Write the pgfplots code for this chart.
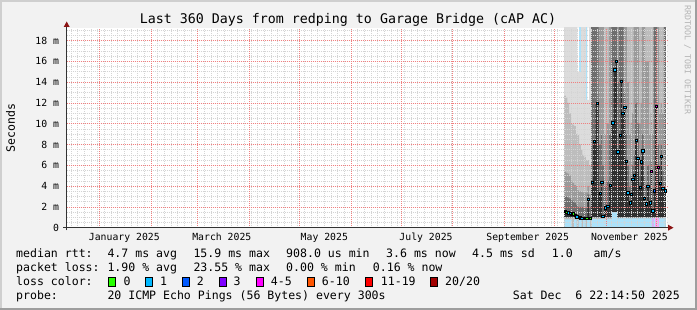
\documentclass[border=0pt]{standalone}
\usepackage{fontspec}
\setmainfont{DejaVu Sans Mono}
\usepackage{xcolor}
\usepackage{pgfplots}
\usepackage{pgfplotstable}
\pgfplotsset{compat=1.18}
\definecolor{bgc}{HTML}{F2F2F2}
\definecolor{shA}{HTML}{CFCFCF}
\definecolor{shB}{HTML}{9E9E9E}
\definecolor{mgrid}{HTML}{F08080}
\definecolor{ngrid}{HTML}{D4D4D4}
\definecolor{axc}{HTML}{333333}
\definecolor{arc}{HTML}{8C1414}
\definecolor{cA}{HTML}{DCDCDC}
\definecolor{cB}{HTML}{BDBDBD}
\definecolor{cC}{HTML}{9A9A9A}
\definecolor{cD}{HTML}{6E6E6E}
\definecolor{cE}{HTML}{303030}
\definecolor{lblue}{HTML}{ACE2FA}
\definecolor{lav}{HTML}{D2B4F5}
\definecolor{lpink}{HTML}{F5A5F5}
\definecolor{l0}{HTML}{26FF00}
\definecolor{l1}{HTML}{00B8FF}
\definecolor{l2}{HTML}{0059FF}
\definecolor{l3}{HTML}{7E00FF}
\definecolor{l4}{HTML}{FF00FF}
\definecolor{l6}{HTML}{FF5500}
\definecolor{l11}{HTML}{FF0000}
\definecolor{l20}{HTML}{A10000}
\definecolor{sidec}{HTML}{B4B4B4}
\newcommand{\axf}{\fontsize{9.8pt}{11pt}\selectfont}
\newcommand{\legf}{\fontsize{11.55pt}{13pt}\selectfont}
\newcommand{\titf}{\fontsize{13.3pt}{15pt}\selectfont}
\newcommand{\sidef}{\fontsize{8.3pt}{10pt}\selectfont}

% smoke: median and envelopes per column (ms), x in days from 1 Jan 2025
\pgfplotstableread{
d md lo hD hC hB mx
278.9 1.6 1.0 3.0 5.4 12.7 25
279.4 1.6 1.0 3.0 5.4 12.7 25
280.4 1.5 1.0 3.0 5.3 12.5 25
281.3 1.45 1.0 2.9 5.2 12.0 25
282.4 1.38 1.0 2.8 5.0 11.0 25
283.4 1.32 1.0 2.6 4.5 10.0 25
284.3 1.35 1.0 2.6 4.3 9.9 25
285.4 1.2 1.0 2.4 4.1 9.8 25
286.4 1.06 0.9 2.2 4.0 9.0 25
287.3 1.0 0.9 2.0 3.6 8.9 15
288.4 0.96 0.9 2.0 3.5 8.0 25
289.4 0.95 0.9 2.0 3.5 7.5 25
290.3 0.9 0.9 2.0 3.4 7.0 25
291.4 0.9 0.9 1.9 3.4 6.8 25
292.4 0.95 0.9 1.9 3.4 6.5 25
293.3 2.76 0.9 3.2 4.0 6.5 12.3
294.4 0.95 0.9 2.0 3.2 6.0 25
295.7 4.4 1.0 25 25 25 25
296.9 8.3 1.0 25 25 25 25
298.7 12.0 1.0 25 25 25 25
300.4 3.3 1.0 8 25 25 25
301.4 4.37 1.0 9 25 25 25
302.0 1.13 1.0 6 25 25 25
303.4 1.92 1.0 4 9 25 25
305.0 2.1 1.0 4.5 10 25 25
306.4 4.1 1.0 9 25 25 25
308.0 10.1 1.0 25 25 25 25
309.2 15.2 1.0 25 25 25 25
310.2 16.0 1.0 25 25 25 25
311.0 7.3 1.0 14 25 25 25
312.4 8.9 1.0 25 25 25 25
313.0 14.1 1.0 25 25 25 25
314.0 11.0 1.0 25 25 25 25
315.2 11.6 1.0 13 25 25 25
316.0 6.4 1.0 9 25 25 25
317.0 3.37 1.0 6 14 25 25
318.4 2.4 1.0 4 9 25 25
319.0 3.2 1.0 5 10 25 25
320.0 4.7 1.0 6 11 25 25
321.0 5.07 1.0 7 25 25 25
322.0 8.4 1.0 12 25 25 25
323.0 6.7 1.0 10 25 25 25
324.4 3.9 1.0 5 10 25 25
325.0 6.35 1.0 7.5 12 25 25
326.0 7.4 1.0 9 25 25 25
327.0 2.8 1.0 5 25 25 25
328.0 2.3 1.0 4 16 25 25
329.0 4.0 1.0 6 16 25 25
330.4 2.4 1.0 4 9 25 25
331.0 5.45 1.0 6.5 11 25 25
332.0 1.63 1.0 3.5 9 25 25
333.0 3.56 1.0 25 25 25 25
334.0 11.7 1.0 25 25 25 25
335.4 5.8 1.0 8 25 25 25
336.4 4.27 1.0 6 11 25 25
337.0 6.9 1.0 8 12 25 25
338.0 3.8 1.0 5.5 11 25 25
339.4 3.56 1.0 25 25 25 25
339.9 3.56 1.0 25 25 25 25
}\smoke

\pagecolor{bgc}
\begin{document}
\begin{tikzpicture}
\useasboundingbox (0pt,0pt) rectangle (697pt,310pt);
\begin{axis}[
  at={(66.7pt,82.3pt)}, anchor=south west, scale only axis,
  width=600.3pt, height=199.7pt,
  xmin=-19.56, xmax=340.56, ymin=0, ymax=19.2,
  axis background/.style={fill=white},
  axis line style={draw=none},
  axis on top,
  tick style={draw=none},
  xtick={15,73.5,135,196,257,318},
  xticklabels={January 2025,March 2025,May 2025,July 2025,September 2025,November 2025},
  xticklabel style={font=\axf, anchor=base, inner sep=0pt, yshift=-13pt},
  ytick={0,2,4,6,8,10,12,14,16,18},
  yticklabels={0\hspace{1.204em},2 m,4 m,6 m,8 m,10 m,12 m,14 m,16 m,18 m},
  yticklabel style={font=\axf, anchor=east, inner sep=0pt, xshift=-7.4pt},
  minor ytick={0.5,1,...,19},
  minor xtick={-17,-13,...,339},
  extra x ticks={0,31,59,90,120,151,181,212,243,273,304,334},
  extra x tick labels={},
  extra x tick style={grid=major},
  ymajorgrids, yminorgrids, xminorgrids,
  major grid style={color=mgrid, line width=0.7pt, dash pattern=on 0.7pt off 1.3pt},
  minor grid style={color=ngrid, line width=0.5pt, dash pattern=on 0.5pt off 1.5pt},
]
% smoke bands, painted from the outermost to the innermost
\addplot[fill=cA, draw=none, const plot mark mid] table[x=d,y=mx]{\smoke} \closedcycle;
\addplot[fill=cB, draw=none, const plot mark mid] table[x=d,y=hB]{\smoke} \closedcycle;
\addplot[fill=cC, draw=none, const plot mark mid] table[x=d,y=hC]{\smoke} \closedcycle;
\addplot[fill=cD, draw=none, const plot mark mid] table[x=d,y=hD]{\smoke} \closedcycle;
\addplot[fill=cE, draw=none, const plot mark mid] table[x=d,y=md]{\smoke} \closedcycle;
\addplot[fill=cB, draw=none, const plot mark mid] table[x=d,y=lo]{\smoke} \closedcycle;
% loss bars
\addplot[fill=lblue, draw=none, const plot mark left] coordinates {
(279.2,0.8) (283.4,0) (284.9,0.8) (286.4,0) (287.6,0.8) (289.4,0) (290.3,0.8)
(291.8,0) (292.6,0.8) (294.4,0) (295.4,0.85) (307.6,1.5) (310.6,0.9) (339.8,0)} \closedcycle;
\addplot[lav, line width=2.5pt] coordinates {(332.05,0) (332.05,0.9)};
\addplot[lpink, line width=3.6pt] coordinates {(334.5,0) (334.5,0.95)};
\addplot[lblue, line width=2.7pt] coordinates {(288.4,15.0) (288.4,25)};
\addplot[lblue, line width=1.4pt] coordinates {(292.2,12.3) (292.2,25)};
% medians coloured by loss
\addplot[only marks, mark=square*, mark size=1.1pt, mark options={draw=none, fill=l0}] coordinates {
(279.4,1.6) (280.4,1.5) (283.4,1.32) (284.3,1.35) (285.4,1.2) (287.3,1.0) (290.3,0.9)
(291.4,0.9) (292.4,0.95) (294.4,0.95)};
\addplot[only marks, mark=square*, mark size=1.1pt, mark options={draw=none, fill=l1}] coordinates {
(281.3,1.45) (282.4,1.38) (286.4,1.06) (288.4,0.96) (289.4,0.95) (293.3,2.76)
(295.7,4.4) (296.9,8.3) (298.7,12.0) (300.4,3.3) (301.4,4.37) (302.0,1.13) (303.4,1.92)
(305.0,2.1) (306.4,4.1) (308.0,10.1) (309.2,15.2) (310.2,16.0) (311.0,7.3) (312.4,8.9)
(313.0,14.1) (314.0,11.0) (315.2,11.6) (316.0,6.4) (317.0,3.37) (318.4,2.4) (319.0,3.2)
(320.0,4.7) (321.0,5.07) (322.0,8.4) (323.0,6.7) (324.4,3.9) (325.0,6.35) (326.0,7.4)
(327.0,2.8) (328.0,2.3) (329.0,4.0) (330.4,2.4) (332.0,1.63) (336.4,4.27) (337.0,6.9)
(338.0,3.8) (339.4,3.56)};
\addplot[only marks, mark=square*, mark size=1.1pt, mark options={draw=none, fill=l2}] coordinates {(333.0,3.56)};
\addplot[only marks, mark=square*, mark size=1.1pt, mark options={draw=none, fill=l4}] coordinates {(331.0,5.45) (334.0,11.7) (335.4,5.8)};
\end{axis}
% axis lines and arrows
\draw[axc, line width=1pt] (63.3pt,82.3pt) -- (669pt,82.3pt);
\fill[arc] (668pt,79.3pt) -- (673.5pt,82.3pt) -- (668pt,85.3pt) -- cycle;
\draw[axc, line width=1pt] (66.7pt,79.5pt) -- (66.7pt,284pt);
\fill[arc] (63.7pt,283pt) -- (66.7pt,288.5pt) -- (69.7pt,283pt) -- cycle;
% frame
\draw[shA, line width=2pt] (1pt,0pt) -- (1pt,309pt) -- (697pt,309pt);
\draw[shB, line width=2pt] (0pt,1pt) -- (696pt,1pt) -- (696pt,310pt);
% title and labels
\node[anchor=base, inner sep=0pt, font=\titf] at (348pt,286pt) {Last 360 Days from redping to Garage Bridge (cAP AC)};
\node[rotate=90, inner sep=0pt, font=\legf] at (10.5pt,182.1pt) {Seconds};
\node[rotate=-90, inner sep=0pt, font=\sidef, text=sidec] at (687.5pt,250pt) {RRDTOOL / TOBI OETIKER};
% legend rows
\begin{scope}[every node/.style={anchor=base west, inner sep=0pt, font=\legf}]
\node at (16pt,52pt) {median rtt:};
\node at (107.3pt,52pt) {4.7 ms avg};
\node at (193.3pt,52pt) {15.9 ms max};
\node at (286pt,52pt) {908.0 us min};
\node at (386pt,52pt) {3.6 ms now};
\node at (472pt,52pt) {4.5 ms sd};
\node at (551.7pt,52pt) {1.0};
\node at (593.5pt,52pt) {am/s};
\node at (16pt,38pt) {packet loss:};
\node at (107.3pt,38pt) {1.90 \% avg};
\node at (193.3pt,38pt) {23.55 \% max};
\node at (286pt,38pt) {0.00 \% min};
\node at (372.7pt,38pt) {0.16 \% now};
\node at (16pt,24pt) {loss color:};
\node at (123.3pt,24pt) {0};
\node at (160pt,24pt) {1};
\node at (196.7pt,24pt) {2};
\node at (233.3pt,24pt) {3};
\node at (270.7pt,24pt) {4-5};
\node at (321.7pt,24pt) {6-10};
\node at (380.7pt,24pt) {11-19};
\node at (445pt,24pt) {20/20};
\node at (16pt,10pt) {probe:};
\node at (107.3pt,10pt) {20 ICMP Echo Pings (56 Bytes) every 300s};
\node[anchor=base east] at (680pt,10pt) {Sat Dec\ \ 6 22:14:50 2025};
\end{scope}
\begin{scope}[line width=0.8pt, draw=black]
\filldraw[fill=l0] (108.7pt,24pt) rectangle (115.7pt,32.3pt);
\filldraw[fill=l1] (145.3pt,24pt) rectangle (152.3pt,32.3pt);
\filldraw[fill=l2] (182.3pt,24pt) rectangle (189.3pt,32.3pt);
\filldraw[fill=l3] (219pt,24pt) rectangle (226pt,32.3pt);
\filldraw[fill=l4] (256.7pt,24pt) rectangle (263.7pt,32.3pt);
\filldraw[fill=l6] (307.3pt,24pt) rectangle (314.3pt,32.3pt);
\filldraw[fill=l11] (365.7pt,24pt) rectangle (372.7pt,32.3pt);
\filldraw[fill=l20] (430pt,24pt) rectangle (437pt,32.3pt);
\end{scope}
\end{tikzpicture}
\end{document}
